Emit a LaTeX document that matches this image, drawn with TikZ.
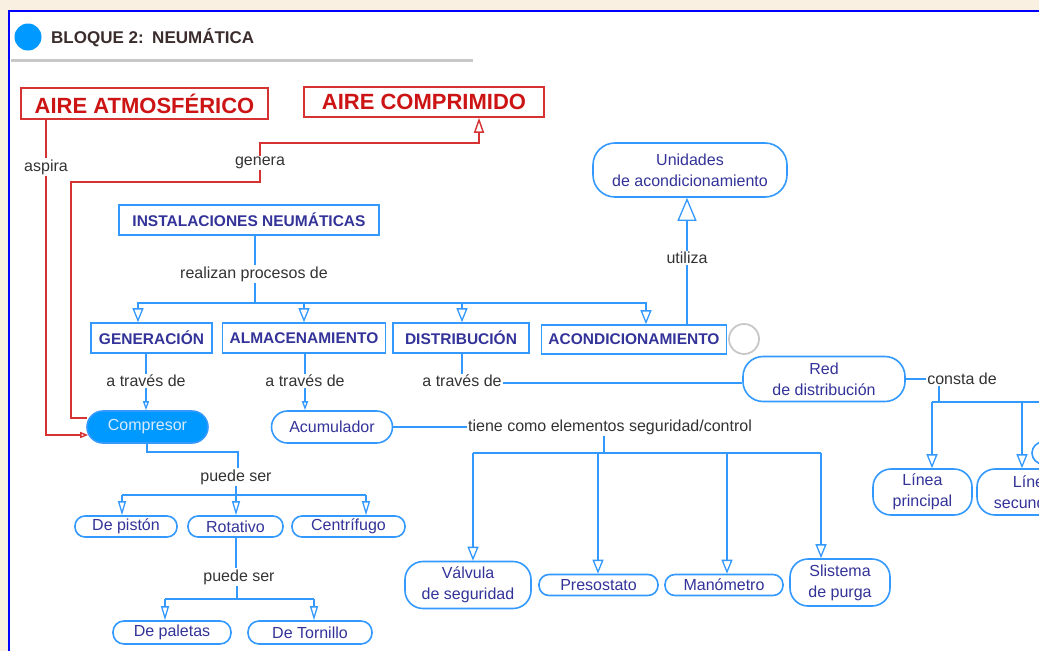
\documentclass[tikz,border=0pt]{standalone}
\usepackage{fontspec}
\setmainfont{Liberation Sans}
\usetikzlibrary{arrows.meta}
\definecolor{bg}{RGB}{250,240,225}
\definecolor{frameblue}{RGB}{0,0,255}
\definecolor{lineblue}{RGB}{51,153,255}
\definecolor{navy}{RGB}{51,51,153}
\definecolor{lbltxt}{RGB}{51,51,51}
\definecolor{titletxt}{RGB}{60,45,45}
\definecolor{redtxt}{RGB}{205,20,20}
\definecolor{redline}{RGB}{215,50,50}
\definecolor{fillblue}{RGB}{0,153,255}
\definecolor{lighttxt}{RGB}{215,235,255}
\definecolor{grayline}{RGB}{200,200,200}
\begin{document}
\begin{tikzpicture}[x=1pt,y=-1pt,
  redbox/.style={draw=redline,line width=1.5pt,text=redtxt,inner sep=0pt,
    font=\fontsize{22}{24}\selectfont\bfseries},
  concept/.style={draw=lineblue,line width=1.6pt,text=navy,inner sep=0pt,
    font=\fontsize{15.5}{18}\selectfont\bfseries},
  oval/.style={draw=lineblue,line width=1.6pt,text=navy,inner sep=0pt,align=center,
    font=\fontsize{16}{21}\selectfont},
  lbl/.style={text=lbltxt,inner sep=1pt,font=\fontsize{16}{18}\selectfont},
  conn/.style={draw=lineblue,line width=1.3pt},
  redl/.style={draw=redline,line width=1.4pt},
  arr/.style={-{Triangle[open,length=14pt,width=11pt]}},
  narr/.style={-{Triangle[open,length=14pt,width=8pt]}},
  smallarr/.style={-{Triangle[open,length=9pt,width=6pt]}},
  bigarr/.style={-{Triangle[open,length=23pt,width=19pt]}}
]
\useasboundingbox (0,0) rectangle (1039,651);
\clip (0,0) rectangle (1039,651);
\fill[bg] (0,0) rectangle (1039,651);
\fill[white] (9,11) rectangle (1039,651);
\draw[frameblue,line width=2pt] (9,651) -- (9,11) -- (1039,11);

% title
\fill[fillblue] (28,37) circle (13.5);
\node[anchor=west,inner sep=0pt,text=titletxt,font=\fontsize{17}{20}\selectfont\bfseries] (title) at (51,38) {BLOQUE 2:\hspace{0.5em}NEUMÁTICA};
\draw[grayline,line width=3pt] (11,60) -- (473,60);

% red boxes
\node[redbox,minimum width=247,minimum height=31] (atm) at (144.5,103.5) {AIRE ATMOSFÉRICO};
\node[redbox,minimum width=240,minimum height=30] (aircomp) at (424,102) {AIRE COMPRIMIDO};

% concept boxes
\node[concept,minimum width=260,minimum height=30] (inst) at (249,220) {INSTALACIONES NEUMÁTICAS};
\node[concept,minimum width=121,minimum height=30] (gen) at (151.5,338) {GENERACIÓN};
\node[concept,minimum width=163,minimum height=30] (alm) at (304,338) {ALMACENAMIENTO};
\node[concept,minimum width=136,minimum height=30] (dist) at (461,338) {DISTRIBUCIÓN};
\node[concept,minimum width=185,minimum height=29] (acond) at (634,339.5) {ACONDICIONAMIENTO};
\node[draw=grayline,line width=1.8pt,circle,minimum size=30,inner sep=0pt] (gcirc) at (744,339) {};

% ovals
\node[oval,rounded corners=22pt,minimum width=194,minimum height=54] (unid) at (690,170) {Unidades\\de acondicionamiento};
\node[oval,rounded corners=16pt,minimum width=121,minimum height=32,fill=fillblue,text=lighttxt] (compr) at (147.5,427) {Compresor};
\node[oval,rounded corners=16pt,minimum width=121,minimum height=32] (acum) at (332,427) {Acumulador};
\node[oval,rounded corners=20pt,minimum width=162,minimum height=45] (red) at (824,379) {Red\\de distribución};
\node[oval,rounded corners=18pt,minimum width=99,minimum height=46] (lprin) at (922.5,492) {Línea\\principal};
\node[oval,rounded corners=18pt,minimum width=112,minimum height=46] (lsec) at (1033,492) {Línea\\secundaria};
\node[oval,rounded corners=11pt,minimum width=68,minimum height=22] (lext) at (1066,453) {};
\node[oval,rounded corners=10pt,minimum width=102,minimum height=21] (depis) at (126,526.5) {De pistón};
\node[oval,rounded corners=10pt,minimum width=95,minimum height=21] (rot) at (235.5,526.5) {Rotativo};
\node[oval,rounded corners=10pt,minimum width=113,minimum height=21] (cent) at (348.5,526.5) {Centrífugo};
\node[oval,rounded corners=11pt,minimum width=118,minimum height=23] (pal) at (172,632.5) {De paletas};
\node[oval,rounded corners=11pt,minimum width=124,minimum height=23] (tor) at (310,632.5) {De Tornillo};
\node[oval,rounded corners=18pt,minimum width=126,minimum height=47] (valv) at (468,585) {Válvula\\de seguridad};
\node[oval,rounded corners=10pt,minimum width=119,minimum height=21] (pres) at (598.5,585) {Presostato};
\node[oval,rounded corners=10pt,minimum width=118,minimum height=21] (mano) at (724,585) {Manómetro};
\node[oval,rounded corners=18pt,minimum width=100,minimum height=47] (sist) at (840,582.5) {Slistema\\de purga};

% labels
\node[lbl] (aspira) at (46,167) {aspira};
\node[lbl] (genera) at (260,163) {genera};
\node[lbl] (realiz) at (254,274) {realizan procesos de};
\node[lbl] (utiliza) at (687,258) {utiliza};
\node[lbl] (at1) at (146,381) {a través de};
\node[lbl] (at2) at (305,381) {a través de};
\node[lbl] (at3) at (462,381) {a través de};
\node[lbl] (tiene) at (610,427) {tiene como elementos seguridad/control};
\node[lbl] (consta) at (962,379) {consta de};
\node[lbl] (puede1) at (236,477) {puede ser};
\node[lbl] (puede2) at (239,577) {puede ser};

% red connectors
\draw[redl] (atm.south -| aspira.north) -- (aspira.north);
\draw[redl,-{Triangle[open,length=8pt,width=6pt]}] (aspira.south) |- ([xshift=2pt,yshift=-8pt]compr.west);
\draw[redl] ([xshift=1pt,yshift=9pt]compr.west) -- (71,418) -- (71,182) -| (genera.south);
\draw[redl,-{Triangle[open,length=15pt,width=10pt]}] (genera.north) |- (479,143) -- (aircomp.south -| 479,0);

% blue connectors
\draw[conn] (inst.south -| 255,0) -- (realiz.north -| 255,0);
\draw[conn] (realiz.south -| 255,0) -- (255,303);
\draw[conn,arr] (255,303) -| (gen.north -| 138,0);
\draw[conn,arr] (255,303) -| (acond.north -| 646,0);
\draw[conn,arr] (304,303) -- (alm.north);
\draw[conn,arr] (462,303) -- (dist.north -| 462,0);

\draw[conn] (acond.north -| utiliza.south) -- (utiliza.south);
\draw[conn,bigarr] (utiliza.north) -- (unid.south -| utiliza.north);

\draw[conn] (gen.south -| at1.north) -- (at1.north);
\draw[conn,smallarr] (at1.south) -- (compr.north -| at1.south);
\draw[conn] (alm.south -| at2.north) -- (at2.north);
\draw[conn,smallarr] (at2.south) -- (acum.north -| at2.south);
\draw[conn] (dist.south -| at3.north) -- (at3.north);
\coordinate (d1) at ([yshift=-2pt]at3.east);
\draw[conn] (d1) -- (red.west |- d1);

\draw[conn] (red.east) -- (consta.west |- red.east);
\draw[conn] (consta.south -| 939,0) -- (939,402);
\draw[conn] (932,402) -- (1045,402);
\draw[conn,arr] (932,402) -- (lprin.north -| 932,0);
\draw[conn,arr] (1022,402) -- (lsec.north -| 1022,0);

\draw[conn] (acum.east) -- (tiene.west |- acum.east);
\draw[conn] (tiene.south -| 604,0) -- (604,453);
\draw[conn] (473,453) -- (821,453);
\draw[conn,arr] (473,453) -- (valv.north -| 473,0);
\draw[conn,arr] (598,453) -- (pres.north -| 598,0);
\draw[conn,arr] (727,453) -- (mano.north -| 727,0);
\draw[conn,arr] (821,453) -- (sist.north -| 821,0);

\draw[conn] (compr.south -| 147,0) |- (238,452) -- (puede1.north -| 238,0);
\draw[conn] (puede1.south) -- (236,495);
\draw[conn] (122,495) -- (366,495);
\draw[conn,narr] (122,495) -- (depis.north -| 122,0);
\draw[conn,narr] (236,495) -- (rot.north -| 236,0);
\draw[conn,narr] (366,495) -- (cent.north -| 366,0);

\draw[conn] (rot.south -| 236,0) -- (puede2.north -| 236,0);
\draw[conn] (puede2.south -| 237,0) -- (237,599);
\draw[conn] (165,599) -- (314,599);
\draw[conn,narr] (165,599) -- (pal.north -| 165,0);
\draw[conn,narr] (314,599) -- (tor.north -| 314,0);
\end{tikzpicture}
\end{document}
